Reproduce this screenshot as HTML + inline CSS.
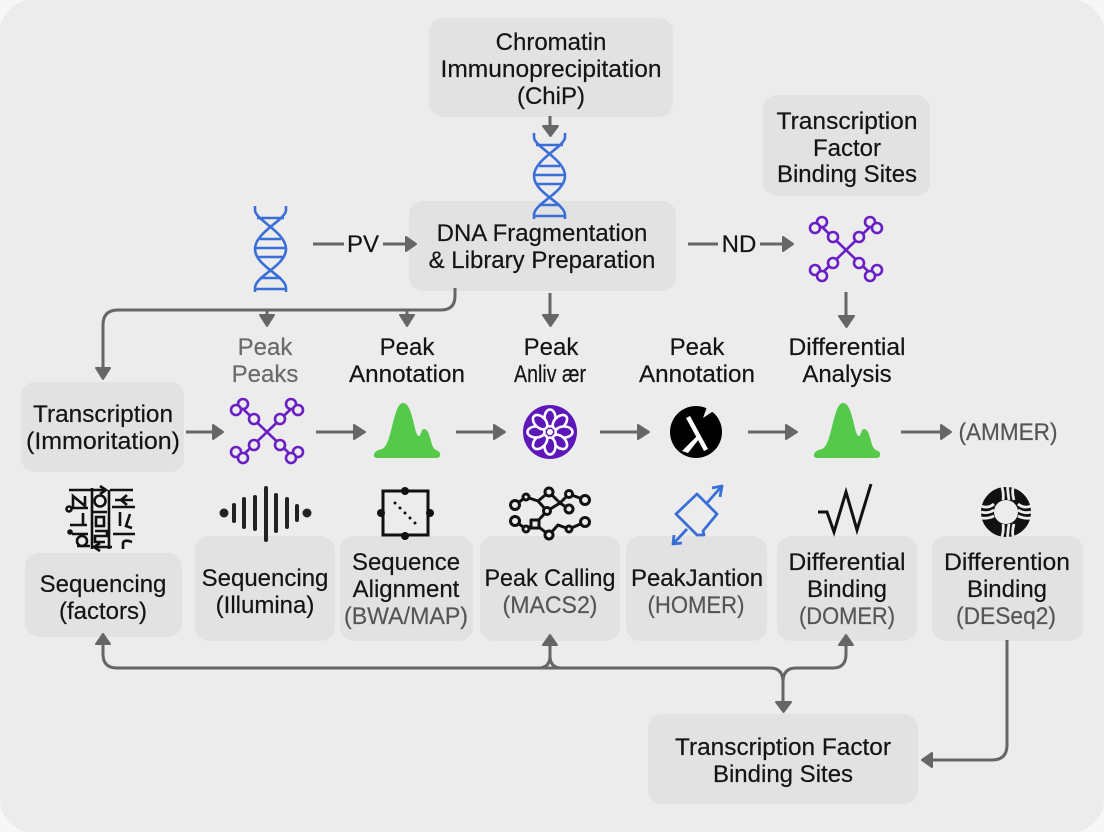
<!DOCTYPE html>
<html><head><meta charset="utf-8"><style>
html,body{margin:0;padding:0;background:#f7f7f7}
svg{display:block}
text{font-family:"Liberation Sans",sans-serif;font-size:24px;fill:#141414;stroke:#141414;stroke-width:.2;text-anchor:middle}
.g{fill:#555;stroke:#555}
.b{fill:#e2e2e2}
.l{fill:none;stroke:#666;stroke-width:3}
.h{fill:#666;stroke:#666;stroke-width:2;stroke-linejoin:round}
.k{fill:none;stroke:#111;stroke-width:3;stroke-linejoin:round}
</style></head><body>
<svg width="1104" height="832" viewBox="0 0 1104 832" xmlns="http://www.w3.org/2000/svg">
<defs>
<g id="dna" fill="none" stroke="#3a6fd8" stroke-width="2.6">
<path d="M1,0V4C1,14 32,26 32,43C32,60 1,70 1,82V86"/>
<path d="M32,0V4C32,14 1,26 1,43C1,60 32,70 32,82V86"/>
<path d="M3,12H30M6,33H27M1,42H32M3,51H30M6,72H27M2,83H31"/>
</g>
<g id="x" fill="none" stroke="#6a1fc4" stroke-width="2.6">
<path d="M-25,-24L25,24M25,-24L-25,24"/>
<g fill="#ececec"><circle cx="-24" cy="-28" r="5"/><circle cx="-31" cy="-22" r="5"/><circle cx="-13" cy="-13" r="5"/><circle cx="24" cy="-28" r="5"/><circle cx="31" cy="-22" r="5"/><circle cx="13" cy="-13" r="5"/><circle cx="-13" cy="13" r="5"/><circle cx="-31" cy="20" r="5"/><circle cx="-24" cy="26" r="5"/><circle cx="13" cy="13" r="5"/><circle cx="31" cy="20" r="5"/><circle cx="24" cy="26" r="5"/></g>
</g>
<path id="peak" fill="#55c94a" d="M378,458Q373,458 374,454Q376,450 382,449C392,446 393,403 403,403C413,403 414,436 419,436C421,436 421,429 424,429C431,429 430,448 436,450Q441,452 440,455Q440,458 436,458Z"/>
<ellipse id="petal" cx="0" cy="-14" rx="5.5" ry="8.5" fill="#5d16b8" stroke="#fff" stroke-width="2.6"/>
</defs>
<rect width="1104" height="832" fill="#f7f7f7"/>
<rect width="1104" height="832" rx="32" fill="#ececec"/>

<!-- boxes -->
<rect class="b" x="429" y="18" width="244" height="99" rx="14"/>
<rect class="b" x="763" y="95" width="167" height="101" rx="14"/>
<rect class="b" x="409" y="201" width="267" height="90" rx="14"/>
<rect class="b" x="21" y="382" width="163" height="90" rx="14"/>
<rect class="b" x="25" y="553" width="157" height="84" rx="14"/>
<rect class="b" x="195" y="536" width="140" height="105" rx="14"/>
<rect class="b" x="340" y="536" width="133" height="105" rx="14"/>
<rect class="b" x="480" y="536" width="140" height="105" rx="14"/>
<rect class="b" x="626" y="536" width="141" height="105" rx="14"/>
<rect class="b" x="777" y="536" width="140" height="105" rx="14"/>
<rect class="b" x="932" y="536" width="151" height="105" rx="14"/>
<rect class="b" x="648" y="714" width="270" height="90" rx="14"/>

<!-- connectors -->
<path class="l" d="M550,116V126"/><path class="h" d="M543,126H558L550.500,136Z"/>
<path class="l" d="M313,244H344M383,244H406"/><path class="h" d="M406,237V251L416,244Z"/>
<path class="l" d="M688,244H718M760,244H783"/><path class="h" d="M783,237V251L793,244Z"/>
<path class="l" d="M455,288V296Q455,310 441,310H118Q103,310 103,325V368"/><path class="h" d="M96,368H110L103,379Z"/>
<path class="l" d="M267,310V316M407,310V316"/><path class="h" d="M260,315H274L267,326Z"/><path class="h" d="M400,315H414L407,326Z"/>
<path class="l" d="M550,293V316"/><path class="h" d="M543,315H558L550.500,326Z"/>
<path class="l" d="M846,292V317"/><path class="h" d="M839,316H854L846.500,327Z"/>
<path class="l" d="M186,432H214M316,432H355M456,432H495M600,432H639M748,432H787M901,432H942"/>
<path class="h" d="M213,425V439L223,432Z"/><path class="h" d="M354,425V439L365,432Z"/><path class="h" d="M494,425V439L505,432Z"/><path class="h" d="M638,425V439L649,432Z"/><path class="h" d="M786,425V439L797,432Z"/><path class="h" d="M941,425V439L951,432Z"/>
<path class="l" d="M103,644V654Q103,668 117,668H770Q783,668 783,682V703M783,682Q783,668 796,668H833Q846,668 846,654V645M538,668Q550,668 550,656V645M562,668Q550,668 550,656"/>
<path class="h" d="M96,644H110L103,634Z"/><path class="h" d="M543,645H557L550,635Z"/><path class="h" d="M839,645H853L846,635Z"/><path class="h" d="M776,702H791L783.500,712Z"/>
<path class="l" d="M1007,640V745Q1007,760 992,760H932"/><path class="h" d="M932,753V767L922,760Z"/>

<!-- dna -->
<use href="#dna" x="254" y="206"/>
<use href="#dna" x="533" y="133"/>

<!-- X molecules -->
<use href="#x" x="267" y="432"/>
<use href="#x" x="846" y="250"/>

<!-- peaks -->
<use href="#peak"/>
<use href="#peak" x="440"/>

<!-- flower -->
<circle cx="550" cy="432" r="27" fill="#5d16b8"/>
<g transform="translate(550,432)">
<use href="#petal"/><use href="#petal" transform="rotate(45)"/><use href="#petal" transform="rotate(90)"/><use href="#petal" transform="rotate(135)"/><use href="#petal" transform="rotate(180)"/><use href="#petal" transform="rotate(225)"/><use href="#petal" transform="rotate(270)"/><use href="#petal" transform="rotate(315)"/>
<circle r="3" fill="#fff"/>
</g>

<!-- black disc -->
<circle cx="696" cy="432" r="26" fill="#000"/>
<path d="M708,404L703,418L712,412L724,416L722,404Z" fill="#ececec"/>
<path d="M686,418L690,416L708,449L704,451Z" fill="#fff"/>
<path d="M697,436L699,439L688,453L682,451Z" fill="#fff"/>

<!-- maze -->
<g fill="none" stroke="#111" stroke-width="2.6">
<path d="M69,490H105M100,486L106,490L100,494M110,490H133M73,507V496L85,506V496M70,508H88M92,488V549M109,490V549M115,500H133M127,495L121,500L127,505M112,507H135M70,525H87M83,513V525M93,512H107M120,512V526M130,514L126,526L132,528M113,534H135M72,534H88M77,546H90M95,531H107V536H95V542H105M95,547H112M100,543L94,547L100,551M123,549V543Q124,539 132,542"/>
<rect x="96" y="517" width="8" height="9"/>
<circle cx="100" cy="501" r="5.500"/>
<circle cx="82" cy="541" r="5"/>
<circle cx="69" cy="509" r="2.500" fill="#ececec"/>
<circle cx="70" cy="532" r="1.500" fill="#111"/>
</g>

<!-- waveform -->
<g stroke="#222" stroke-width="4" stroke-linecap="round">
<path d="M234,505V521M244,499V527M255,497V529M266,488V540M276,495V531M287,499V527M297,506V520"/>
<circle cx="224" cy="513" r="2.500"/><circle cx="307" cy="513" r="2.500"/>
</g>

<!-- square -->
<rect x="383" y="491" width="45" height="44" fill="none" stroke="#111" stroke-width="3"/>
<g fill="#111"><circle cx="405" cy="491" r="4"/><circle cx="405" cy="536" r="4"/><circle cx="381" cy="513" r="4"/><circle cx="430" cy="513" r="4"/><circle cx="395" cy="503" r="1.500"/><circle cx="400" cy="508" r="1.500"/><circle cx="405" cy="513" r="1.500"/><circle cx="410" cy="518" r="1.500"/><circle cx="415" cy="523" r="1.500"/></g>

<!-- network -->
<g class="k">
<path d="M515,505L526,497L538,501L549,492L560,503L569,494L585,500M538,501L547,511L535,524M560,503L547,511M560,503L569,509M515,521L526,529L535,524L549,535L558,525L569,529L585,522"/>
<g fill="#ececec"><circle cx="515" cy="505" r="4.500"/><circle cx="526" cy="497" r="3"/><circle cx="549" cy="492" r="4"/><circle cx="569" cy="494" r="3.500"/><circle cx="585" cy="500" r="4.500"/><circle cx="547" cy="511" r="3.500"/><circle cx="569" cy="509" r="4"/><circle cx="515" cy="521" r="4.500"/><circle cx="526" cy="529" r="3"/><rect x="531" y="520" width="8" height="8"/><circle cx="549" cy="535" r="4"/><circle cx="569" cy="529" r="3"/><circle cx="585" cy="522" r="4.500"/></g>
</g>

<!-- blue -->
<g fill="none" stroke="#3a6fd8" stroke-width="2.800" stroke-linejoin="round">
<path d="M697,494L717,514L703,531L704,535L697,535L676,514Z"/>
<path d="M707,503L721,487M712,488L722,486L720,497"/>
<path d="M687,529L674,543M674,535L673,544L682,543"/>
</g>

<!-- W -->
<path d="M818,512H827L834,532L846,492L857,530L871,484" fill="none" stroke="#111" stroke-width="3"/>

<!-- round black -->
<circle cx="1006" cy="512" r="18.500" fill="none" stroke="#111" stroke-width="13"/>
<g fill="none" stroke="#ececec" stroke-width="2.800">
<path d="M1002,487Q1004,494 1003,500M1007.500,486Q1008,494 1009,500M1013,488Q1012,494 1014,500M1002,537Q1004,530 1003,524M1007.500,538Q1008,530 1009,524M1013,536Q1012,530 1014,524M981,506Q988,509 994,504M981,512Q988,514 994,510M981,518Q988,519 994,516M1031,506Q1024,509 1018,504M1031,512Q1024,514 1018,510M1031,518Q1024,519 1018,516"/>
</g>

<!-- labels -->
<text x="551" y="50">Chromatin</text>
<text x="551" y="77" textLength="221" lengthAdjust="spacingAndGlyphs">Immunoprecipitation</text>
<text x="551" y="104">(ChiP)</text>
<text x="847" y="129" textLength="141" lengthAdjust="spacingAndGlyphs">Transcription</text>
<text x="847" y="156">Factor</text>
<text x="847" y="182">Binding Sites</text>
<text x="542" y="241">DNA Fragmentation</text>
<text x="542" y="268">&amp; Library Preparation</text>
<text x="363" y="252">PV</text>
<text x="739" y="252">ND</text>
<text x="265" y="355" class="g" style="fill:#6a6a6a;stroke:#6a6a6a">Peak</text>
<text x="265" y="382" class="g" style="fill:#6a6a6a;stroke:#6a6a6a">Peaks</text>
<text x="407" y="355">Peak</text>
<text x="407" y="382" textLength="116" lengthAdjust="spacingAndGlyphs">Annotation</text>
<text x="551" y="355">Peak</text>
<text x="550" y="382" textLength="72" lengthAdjust="spacingAndGlyphs">Anliv ær</text>
<text x="697" y="355">Peak</text>
<text x="697" y="382" textLength="116" lengthAdjust="spacingAndGlyphs">Annotation</text>
<text x="847" y="355" textLength="117" lengthAdjust="spacingAndGlyphs">Differential</text>
<text x="847" y="382">Analysis</text>
<text x="103" y="422" textLength="140" lengthAdjust="spacingAndGlyphs">Transcription</text>
<text x="103" y="449" textLength="154" lengthAdjust="spacingAndGlyphs">(Immoritation)</text>
<text x="1008" y="440" class="g" textLength="99" lengthAdjust="spacingAndGlyphs">(AMMER)</text>
<text x="103" y="592">Sequencing</text>
<text x="103" y="619">(factors)</text>
<text x="265" y="586">Sequencing</text>
<text x="265" y="613">(Illumina)</text>
<text x="406" y="570">Sequence</text>
<text x="406" y="597">Alignment</text>
<text x="406" y="624" class="g" textLength="124" lengthAdjust="spacingAndGlyphs">(BWA/MAP)</text>
<text x="550" y="586" textLength="131" lengthAdjust="spacingAndGlyphs">Peak Calling</text>
<text x="550" y="613" class="g" textLength="95" lengthAdjust="spacingAndGlyphs">(MACS2)</text>
<text x="697" y="586">PeakJantion</text>
<text x="696" y="613" class="g" textLength="97" lengthAdjust="spacingAndGlyphs">(HOMER)</text>
<text x="847" y="570" textLength="117" lengthAdjust="spacingAndGlyphs">Differential</text>
<text x="847" y="597">Binding</text>
<text x="847" y="624" class="g" textLength="96" lengthAdjust="spacingAndGlyphs">(DOMER)</text>
<text x="1007" y="570" textLength="126" lengthAdjust="spacingAndGlyphs">Differention</text>
<text x="1007" y="597">Binding</text>
<text x="1006" y="624" class="g" textLength="100" lengthAdjust="spacingAndGlyphs">(DESeq2)</text>
<text x="783" y="755" textLength="216" lengthAdjust="spacingAndGlyphs">Transcription Factor</text>
<text x="783" y="782">Binding Sites</text>
</svg>
</body></html>
